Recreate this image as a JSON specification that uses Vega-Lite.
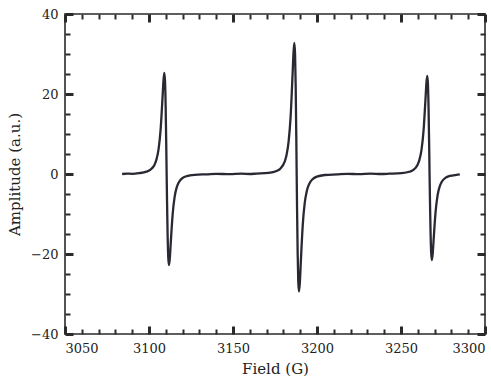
{
  "$schema": "https://vega.github.io/schema/vega-lite/v6.json",
  "width": 420,
  "height": 320,
  "autosize": {"type": "none"},
  "padding": {"left": 65, "top": 14, "right": 6, "bottom": 55},
  "config": {
    "view": {"stroke": "#2a2a2a", "strokeWidth": 1.6},
    "axis": {"grid": false, "domain": false, "labelFont": "DejaVu Serif", "titleFont": "DejaVu Serif", "labelColor": "#222", "titleColor": "#222", "labelFontSize": 13, "titleFontSize": 15, "titleFontWeight": "normal"}
  },
  "data": {"values": [
    {"field": 3084, "amp": 0}, {"field": 3087, "amp": 0.1}, {"field": 3090, "amp": 0.05}, {"field": 3094, "amp": 0.2},
    {"field": 3098.5, "amp": 0.58}, {"field": 3100.9, "amp": 1.08}, {"field": 3103.3, "amp": 2.33}, {"field": 3104.5, "amp": 3.71},
    {"field": 3105.7, "amp": 6.22}, {"field": 3106.9, "amp": 11.06}, {"field": 3108.1, "amp": 19.48}, {"field": 3108.58, "amp": 23.17},
    {"field": 3109.1, "amp": 25.3}, {"field": 3109.54, "amp": 23.15}, {"field": 3109.9, "amp": 17.25}, {"field": 3110.26, "amp": 7.64},
    {"field": 3110.5, "amp": 0}, {"field": 3110.74, "amp": -6.89}, {"field": 3111.1, "amp": -15.55}, {"field": 3111.46, "amp": -20.86},
    {"field": 3111.9, "amp": -22.8}, {"field": 3112.42, "amp": -20.88}, {"field": 3112.9, "amp": -17.56}, {"field": 3114.1, "amp": -9.96},
    {"field": 3115.3, "amp": -5.61}, {"field": 3116.5, "amp": -3.34}, {"field": 3117.7, "amp": -2.1}, {"field": 3120.1, "amp": -0.97},
    {"field": 3122.5, "amp": -0.52}, {"field": 3127.3, "amp": -0.2}, {"field": 3134.5, "amp": -0.07}, {"field": 3140, "amp": 0.05},
    {"field": 3148, "amp": -0.05}, {"field": 3155, "amp": 0.08}, {"field": 3160, "amp": 0},
    {"field": 3163.9, "amp": 0.1}, {"field": 3171.1, "amp": 0.28}, {"field": 3175.9, "amp": 0.75}, {"field": 3178.3, "amp": 1.4},
    {"field": 3180.7, "amp": 3.02}, {"field": 3181.9, "amp": 4.81}, {"field": 3183.1, "amp": 8.07}, {"field": 3184.3, "amp": 14.33},
    {"field": 3185.5, "amp": 25.26}, {"field": 3185.98, "amp": 30.04}, {"field": 3186.5, "amp": 32.8}, {"field": 3186.94, "amp": 30.01},
    {"field": 3187.3, "amp": 22.37}, {"field": 3187.66, "amp": 9.91}, {"field": 3187.9, "amp": 0}, {"field": 3188.14, "amp": -8.88},
    {"field": 3188.5, "amp": -20.05}, {"field": 3188.86, "amp": -26.9}, {"field": 3189.3, "amp": -29.4}, {"field": 3189.82, "amp": -26.93},
    {"field": 3190.3, "amp": -22.64}, {"field": 3191.5, "amp": -12.85}, {"field": 3192.7, "amp": -7.23}, {"field": 3193.9, "amp": -4.31},
    {"field": 3195.1, "amp": -2.7}, {"field": 3197.5, "amp": -1.25}, {"field": 3199.9, "amp": -0.67}, {"field": 3204.7, "amp": -0.25},
    {"field": 3211.9, "amp": -0.09}, {"field": 3218, "amp": 0.05}, {"field": 3225, "amp": -0.05}, {"field": 3232, "amp": 0.1}, {"field": 3238, "amp": 0},
    {"field": 3243, "amp": 0.07}, {"field": 3250.2, "amp": 0.21}, {"field": 3255, "amp": 0.56}, {"field": 3257.4, "amp": 1.04},
    {"field": 3259.8, "amp": 2.25}, {"field": 3261, "amp": 3.59}, {"field": 3262.2, "amp": 6.03}, {"field": 3263.4, "amp": 10.71},
    {"field": 3264.6, "amp": 18.87}, {"field": 3265.08, "amp": 22.44}, {"field": 3265.6, "amp": 24.5}, {"field": 3266.04, "amp": 22.42},
    {"field": 3266.4, "amp": 16.71}, {"field": 3266.76, "amp": 7.4}, {"field": 3267, "amp": 0}, {"field": 3267.24, "amp": -6.49},
    {"field": 3267.6, "amp": -14.66}, {"field": 3267.96, "amp": -19.67}, {"field": 3268.4, "amp": -21.5}, {"field": 3268.92, "amp": -19.69},
    {"field": 3269.4, "amp": -16.56}, {"field": 3270.6, "amp": -9.4}, {"field": 3271.8, "amp": -5.29}, {"field": 3273, "amp": -3.15},
    {"field": 3274.2, "amp": -1.98}, {"field": 3276.6, "amp": -0.92}, {"field": 3279, "amp": -0.49}, {"field": 3283.8, "amp": -0.18}, {"field": 3285, "amp": -0.1}
  ]},
  "resolve": {"axis": {"x": "independent", "y": "independent"}},
  "layer": [
    {
      "mark": {"type": "line", "color": "#2b2733", "strokeWidth": 2.3, "interpolate": "monotone"},
      "encoding": {
        "x": {"field": "field", "type": "quantitative", "scale": {"domain": [3050, 3300], "nice": false, "zero": false},
              "axis": {"orient": "bottom", "title": "Field (G)", "values": [3050, 3100, 3150, 3200, 3250, 3300], "ticks": false, "labelFlush": true, "labelPadding": 8, "titlePadding": 6, "format": "d"}},
        "y": {"field": "amp", "type": "quantitative", "scale": {"domain": [-40, 40], "nice": false},
              "axis": {"orient": "left", "title": "Amplitude (a.u.)", "values": [-40, -20, 0, 20, 40], "ticks": false, "labelFlush": false, "labelPadding": 7, "titlePadding": 8}}
      }
    },
    {
      "mark": {"type": "point", "opacity": 0},
      "encoding": {
        "x": {"field": "field", "type": "quantitative",
              "axis": {"orient": "bottom", "title": null, "labels": false, "values": [3050, 3100, 3150, 3200, 3250, 3300], "offset": -8, "tickSize": 8, "tickColor": "#2a2a2a", "tickWidth": 3}},
        "y": {"field": "amp", "type": "quantitative",
              "axis": {"orient": "left", "title": null, "labels": false, "values": [-40, -20, 0, 20, 40], "offset": -8, "tickSize": 8, "tickColor": "#2a2a2a", "tickWidth": 3}}
      }
    },
    {
      "mark": {"type": "point", "opacity": 0},
      "encoding": {
        "x": {"field": "field", "type": "quantitative",
              "axis": {"orient": "bottom", "title": null, "labels": false, "values": [3060, 3070, 3080, 3090, 3110, 3120, 3130, 3140, 3160, 3170, 3180, 3190, 3210, 3220, 3230, 3240, 3260, 3270, 3280, 3290], "offset": -5, "tickSize": 5, "tickColor": "#2a2a2a", "tickWidth": 2}},
        "y": {"field": "amp", "type": "quantitative",
              "axis": {"orient": "left", "title": null, "labels": false, "values": [-35, -30, -25, -15, -10, -5, 5, 10, 15, 25, 30, 35], "offset": -5, "tickSize": 5, "tickColor": "#2a2a2a", "tickWidth": 2}}
      }
    },
    {
      "mark": {"type": "point", "opacity": 0},
      "encoding": {
        "x": {"field": "field", "type": "quantitative",
              "axis": {"orient": "top", "title": null, "labels": false, "values": [3050, 3100, 3150, 3200, 3250, 3300], "offset": -8, "tickSize": 8, "tickColor": "#2a2a2a", "tickWidth": 3}},
        "y": {"field": "amp", "type": "quantitative",
              "axis": {"orient": "right", "title": null, "labels": false, "values": [-40, -20, 0, 20, 40], "offset": -8, "tickSize": 8, "tickColor": "#2a2a2a", "tickWidth": 3}}
      }
    },
    {
      "mark": {"type": "point", "opacity": 0},
      "encoding": {
        "x": {"field": "field", "type": "quantitative",
              "axis": {"orient": "top", "title": null, "labels": false, "values": [3060, 3070, 3080, 3090, 3110, 3120, 3130, 3140, 3160, 3170, 3180, 3190, 3210, 3220, 3230, 3240, 3260, 3270, 3280, 3290], "offset": -5, "tickSize": 5, "tickColor": "#2a2a2a", "tickWidth": 2}},
        "y": {"field": "amp", "type": "quantitative",
              "axis": {"orient": "right", "title": null, "labels": false, "values": [-35, -30, -25, -15, -10, -5, 5, 10, 15, 25, 30, 35], "offset": -5, "tickSize": 5, "tickColor": "#2a2a2a", "tickWidth": 2}}
      }
    }
  ]
}
